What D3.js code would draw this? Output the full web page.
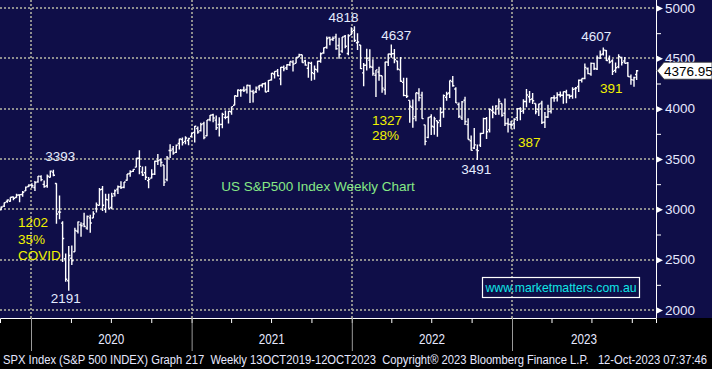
<!DOCTYPE html>
<html><head><meta charset="utf-8">
<script src="https://cdn.jsdelivr.net/npm/d3@7"></script>
<style>
html,body{margin:0;padding:0;background:#000;}
svg{display:block;}
</style></head>
<body><svg id="c" width="712" height="369"></svg>
<script>
// ---- data: weekly OHLC, SPX, week ending 18-Oct-2019 .. 12-Oct-2023 ----
const opens = [
2970,2996,3032,3078,3081,3123,3117,3143,3147,3183,3227,
3240,3217,3273,3325,3248,3235,3318,3370,3257,2974,2863,2509,2290,2514,2578,2782,2846,2854,2815,2915,2914,3005,3039,3199,3000,3094,3018,3155,3200,3224,3219,3289,3356,3377,3419,3507,3370,3363,3285,3310,3350,3478,3493,3441,3297,3584,3600,3566,3654,3694,3675,3684,3723,
3764,3803,3782,3851,3731,3892,3939,3886,3842,3844,3913,3917,3969,4034,4124,4179,4185,4191,4228,4169,4168,4216,4232,4248,4174,4285,4344,4373,4296,4410,4407,4437,4462,4450,4513,4535,4474,4402,4450,4348,4385,4471,4553,4610,4707,4689,4712,4628,4572,4719,4548,4733,
4778,4655,4632,4356,4431,4482,4412,4332,4364,4327,4188,4462,4541,4547,4474,4385,4261,4130,4082,4013,3920,4151,4135,3839,3715,3920,3818,3880,3883,3966,4113,4155,4269,4195,4041,3909,4084,3841,3682,3609,3591,3638,3755,3901,3789,3982,3956,4005,4052,3954,3853,3843,
3853,3911,3999,3978,4071,4119,4096,4052,3992,4055,3865,3917,3975,4109,4110,4138,4134,4166,4136,4126,4197,4220,4282,4299,4396,4344,4450,4394,4502,4543,4578,4494,4474,4380,4415,4510,4473,4453,4316,4284,4339];
const highs = [
3000,3027,3067,3097,3120,3127,3154,3150,3182,3226,3248,
3259,3282,3330,3338,3286,3347,3385,3393,3259,3137,2882,2562,2637,2641,2818,2880,2872,2965,2939,2945,2980,3069,3211,3233,3156,3155,3165,3198,3236,3280,3272,3352,3388,3399,3509,3588,3425,3429,3320,3397,3482,3550,3502,3441,3529,3646,3628,3645,3702,3713,3726,3711,3760,
3827,3824,3861,3870,3888,3938,3950,3932,3914,3960,3983,3978,4020,4130,4191,4195,4219,4238,4238,4187,4219,4234,4249,4262,4286,4355,4372,4393,4415,4429,4442,4468,4481,4511,4545,4536,4486,4465,4466,4429,4475,4559,4608,4718,4714,4718,4744,4705,4713,4731,4740,4808,
4818,4749,4632,4453,4595,4590,4490,4385,4416,4327,4466,4546,4637,4593,4475,4513,4308,4308,4082,4091,4158,4204,4169,3839,3914,3945,3919,3880,4013,4140,4167,4281,4325,4212,4062,4076,4119,3906,3733,3807,3643,3762,3911,3918,4002,4028,4034,4100,4052,4101,3905,3878,
3906,4004,4015,4094,4195,4176,4156,4052,4048,4078,3968,4039,4110,4133,4164,4170,4170,4187,4143,4212,4214,4290,4299,4448,4409,4458,4456,4528,4578,4607,4584,4527,4491,4458,4541,4515,4513,4464,4339,4317,4385];
const lows = [
2953,2992,3022,3066,3076,3091,3114,3070,3125,3181,3222,
3212,3181,3263,3280,3214,3214,3316,3328,2856,2902,2478,2281,2191,2447,2578,2761,2727,2822,2797,2767,2914,2968,3039,2984,2966,3008,3000,3127,3153,3202,3210,3284,3323,3370,3418,3349,3330,3292,3209,3306,3342,3441,3424,3233,3279,3511,3543,3559,3595,3633,3647,3636,3720,
3663,3750,3774,3695,3725,3874,3866,3789,3723,3806,3894,3853,3940,4034,4119,4118,4165,4150,4057,4062,4155,4181,4211,4164,4165,4281,4300,4321,4233,4372,4384,4424,4368,4450,4513,4457,4427,4306,4278,4288,4360,4456,4546,4595,4630,4672,4585,4495,4556,4600,4531,4733,
4662,4582,4395,4223,4379,4402,4328,4115,4278,4157,4138,4424,4507,4450,4381,4268,4124,4107,3859,3811,3875,4074,3900,3637,3705,3739,3742,3722,3818,3910,4079,4107,4218,4057,3907,3887,3838,3693,3585,3600,3491,3620,3750,3698,3764,3906,3938,3940,3919,3828,3764,3800,
3795,3877,3886,3949,4015,4060,4047,3944,3928,3847,3809,3908,3952,4069,4072,4114,4049,4055,4099,4098,4103,4166,4261,4293,4341,4328,4385,4384,4494,4528,4474,4448,4335,4356,4402,4430,4449,4316,4238,4217,4284];
const closes = [
2986,3023,3067,3093,3120,3110,3141,3146,3169,3221,3240,
3235,3265,3330,3295,3226,3328,3380,3338,2954,2972,2711,2305,2541,2489,2790,2875,2837,2831,2930,2864,2955,3044,3194,3041,3098,3009,3130,3185,3225,3216,3271,3351,3373,3397,3508,3427,3341,3319,3298,3348,3477,3484,3465,3270,3510,3585,3558,3638,3699,3663,3709,3703,3756,
3825,3768,3841,3714,3887,3934,3907,3811,3842,3943,3913,3975,4020,4129,4185,4180,4181,4233,4174,4156,4204,4230,4247,4166,4281,4352,4370,4327,4412,4395,4437,4468,4442,4509,4535,4459,4433,4455,4357,4391,4471,4545,4605,4697,4683,4698,4595,4538,4712,4620,4725,4766,
4677,4662,4398,4432,4501,4419,4349,4385,4329,4204,4463,4543,4546,4488,4393,4272,4132,4123,4024,3901,4158,4109,3901,3675,3912,3825,3899,3863,3962,4130,4145,4280,4228,4058,3924,4067,3873,3693,3586,3640,3583,3753,3901,3771,3993,3965,4026,4072,3934,3852,3845,3840,
3895,3999,3973,4071,4136,4090,4079,3970,4046,3862,3917,3971,4109,4105,4138,4133,4169,4136,4124,4192,4205,4282,4299,4410,4348,4450,4399,4505,4536,4582,4478,4464,4370,4406,4516,4457,4450,4320,4288,4309,4376.95];
const weeks = d3.timeFriday.range(new Date(2019,9,18), new Date(2023,9,7)).concat([new Date(2023,9,12)]);
const yTicks = [2000,2500,3000,3500,4000,4500,5000];
const yMinor = [2250,2750,3250,3750,4250,4750];
const yearLabels = ["2020","2021","2022","2023"];
const peaks = [ // [label, week index of the bar]
  ["3393", 18, "hi", 7, -13], ["2191", 23, "lo", -3, 8], ["4818", 116, "hi", -11, -9],
  ["4637", 128, "hi", 5, -9], ["3491", 156, "lo", -1, 9], ["4607", 197, "hi", -7, -11]];
const lastPrice = 4376.95;

// ---- layout ----
const W = 712, H = 369, PR = 656, PB = 318;
const svg = d3.select("#c");
const x = d3.scaleTime().domain([new Date(2020,0,1), new Date(2023,0,1)]).range([31, 512]);
const xa = x.copy().domain([x.invert(0), x.invert(PR)]).range([0, PR]);
const y = d3.scaleLinear().domain([2000, 5000]).range([310, 8]);

svg.append("rect").attr("width", W).attr("height", H).attr("fill", "#000");
svg.append("rect").attr("width", W).attr("height", PB).attr("fill", "#0f0e48");

// grid
const grid = svg.append("g").attr("stroke", "#8e8e8e").attr("stroke-width", 2)
  .attr("stroke-dasharray", "2,2").attr("shape-rendering", "crispEdges");
grid.selectAll("line.h").data(yTicks).join("line").attr("class", "h")
  .attr("x1", 0).attr("x2", PR).attr("y1", d => Math.round(y(d))).attr("y2", d => Math.round(y(d)));
const years = d3.timeYear.range(new Date(2020,0,1), new Date(2024,0,1));
grid.selectAll("line.v").data(years).join("line").attr("class", "v")
  .attr("x1", d => Math.round(x(d))).attr("x2", d => Math.round(x(d))).attr("y1", 0).attr("y2", PB);

// bars
svg.append("defs").append("clipPath").attr("id", "pc").append("rect")
  .attr("width", PR).attr("height", PB);
const bars = svg.append("g").attr("clip-path", "url(#pc)")
  .attr("stroke", "#fff").attr("stroke-width", 1.4).attr("fill", "none");
bars.selectAll("path").data(weeks).join("path")
  .attr("d", (d, i) => {
    const cx = x(d);
    return `M${cx},${y(highs[i])}V${y(lows[i])}M${cx-1.6},${y(opens[i])}H${cx}M${cx},${y(closes[i])}H${cx+1.6}`;
  });

// y axis (right)
const yAx = svg.append("g").attr("transform", `translate(${PR},0)`)
  .call(d3.axisRight(y).tickValues(yMinor).tickSize(5).tickFormat(""));
yAx.select(".domain").remove();
yAx.selectAll("line").attr("stroke", "#fff");
const yAx2 = svg.append("g").attr("transform", `translate(${PR},0)`)
  .call(d3.axisRight(y).tickValues(yTicks).tickSize(0).tickPadding(9).tickFormat(d3.format("d")));
yAx2.select(".domain").remove();
yAx2.selectAll(".tick text").attr("fill", "#e6e8ff").attr("font-size", 13.5)
  .attr("font-family", "Liberation Sans, Arial, sans-serif");
yAx2.selectAll(".tick").append("path").attr("d", "M0,-3.5L7,0L0,3.5Z").attr("fill", "#fff");
svg.append("line").attr("x1", PR + 0.5).attr("x2", PR + 0.5).attr("y1", 0).attr("y2", PB)
  .attr("stroke", "#fff").attr("stroke-width", 1);

// x axis
const xAx = svg.append("g").attr("transform", `translate(0,${PB})`)
  .call(d3.axisBottom(xa).ticks(d3.timeMonth.every(3)).tickSize(5).tickFormat(""));
xAx.select(".domain").attr("stroke", "#fff");
xAx.selectAll("line").attr("stroke", "#fff");
const xAxY = svg.append("g").attr("transform", `translate(0,${PB})`)
  .call(d3.axisBottom(xa).ticks(d3.timeYear.every(1)).tickSize(33).tickFormat(""));
xAxY.select(".domain").remove();
xAxY.selectAll("line").attr("stroke", "#9a9a9a");
svg.selectAll("text.yr").data(yearLabels).join("text").attr("class", "yr")
  .attr("x", (d, i) => (x(years[i]) + Math.min(PR, x(d3.timeYear.offset(years[i], 1)))) / 2 - 13)
  .attr("y", 344).attr("fill", "#e6e8ff")
  .attr("font-size", 14.5).attr("font-family", "Liberation Sans, Arial, sans-serif")
  .attr("textLength", 26).attr("lengthAdjust", "spacingAndGlyphs").text(d => d);

svg.append("text").attr("x", 3).attr("y", 363.5).attr("fill", "#e6e8ff")
  .attr("font-size", 12).attr("font-family", "Liberation Sans, Arial, sans-serif")
  .attr("textLength", 704).attr("lengthAdjust", "spacingAndGlyphs").attr("xml:space", "preserve")
  .text("SPX Index (S&P 500 INDEX) Graph 217  Weekly 13OCT2019-12OCT2023  Copyright\u00ae 2023 Bloomberg Finance L.P.   12-Oct-2023 07:37:46");

// last price marker
const ly = y(lastPrice);
svg.append("path").attr("d", `M657,${ly}L664,${ly-8.5}H712V${ly+8.5}H664Z`)
  .attr("fill", "#fff").attr("stroke", "#333").attr("stroke-width", 0.8);
svg.append("text").attr("x", 664).attr("y", ly + 5).attr("fill", "#000")
  .attr("font-size", 13.5).attr("font-family", "Liberation Sans, Arial, sans-serif").text(d3.format(".2f")(lastPrice));

// annotations
const font = "Liberation Sans, Arial, sans-serif";
svg.selectAll("text.pk").data(peaks).join("text").attr("class", "pk")
  .attr("x", d => x(weeks[d[1]]) + d[3])
  .attr("y", d => y(d[2] === "hi" ? highs[d[1]] : lows[d[1]]) + d[4])
  .attr("dy", "0.35em").attr("text-anchor", "middle").attr("fill", "#e4ecff")
  .attr("font-size", 13.5).attr("font-family", font).text(d => d[0]);

const notes = [["1202", 18, 222], ["35%", 18, 239], ["COVID", 18, 255],
               ["1327", 372, 120], ["28%", 372, 135], ["387", 518, 142], ["391", 600, 88]];
svg.selectAll("text.nt").data(notes).join("text").attr("class", "nt")
  .attr("x", d => d[1]).attr("y", d => d[2]).attr("dy", "0.35em")
  .attr("fill", "#f2f200").attr("font-size", 13.5).attr("font-family", font).text(d => d[0]);

svg.append("text").attr("x", 318).attr("y", 186).attr("dy", "0.35em").attr("text-anchor", "middle")
  .attr("fill", "#86e886").attr("font-size", 13.5).attr("font-family", font)
  .text("US S&P500 Index Weekly Chart");

svg.append("rect").attr("x", 482.5).attr("y", 277.5).attr("width", 157).attr("height", 20)
  .attr("fill", "none").attr("stroke", "#fff").attr("stroke-width", 1.2);
svg.append("text").attr("x", 561).attr("y", 287.5).attr("dy", "0.35em").attr("text-anchor", "middle")
  .attr("fill", "#10e6e6").attr("font-size", 13).attr("font-family", font)
  .attr("textLength", 151).attr("lengthAdjust", "spacingAndGlyphs")
  .text("www.marketmatters.com.au");
</script></body></html>
